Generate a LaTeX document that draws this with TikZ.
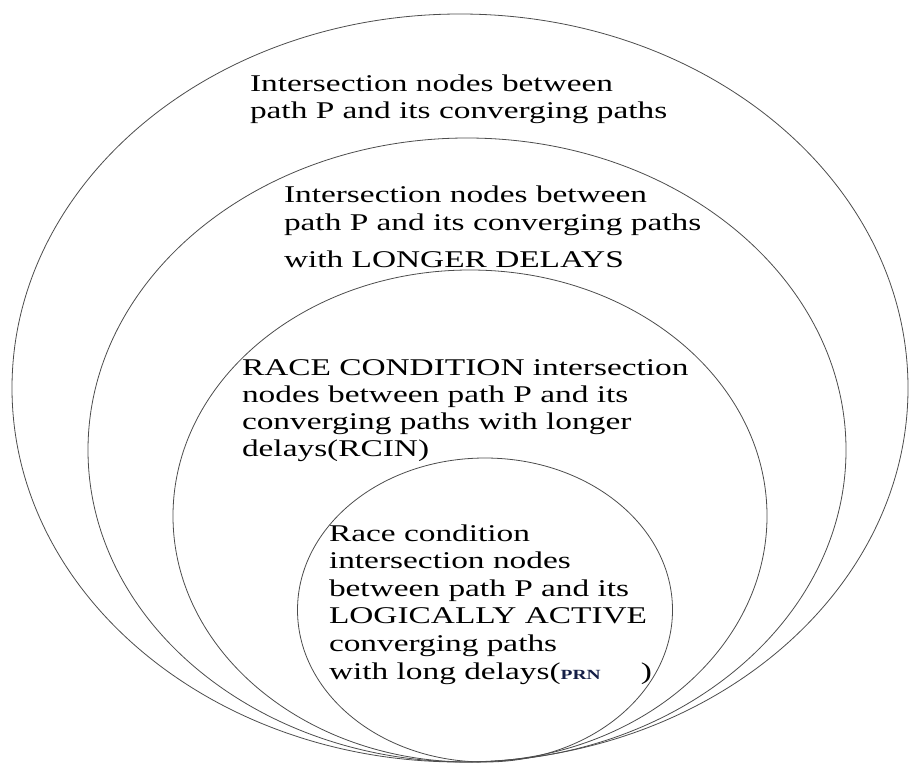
\documentclass[tikz,border=0pt]{standalone}
\usepackage{fontspec}
\setmainfont{Liberation Serif}
\usetikzlibrary{shapes.geometric}
\definecolor{prnblue}{RGB}{20,30,70}
\tikzset{
  ring/.style={ellipse, draw=black!70, line width=0.8pt, inner sep=0pt, outer sep=0pt},
  label block/.style={anchor=base west, inner sep=0pt, outer sep=0pt, align=left}
}
% wide Times-like lettering
\newcommand{\widetext}[2]{\scalebox{1.39}[1]{\fontsize{24}{#1}\selectfont\begin{tabular}[t]{@{}l@{}}#2\end{tabular}}}
\begin{document}
\begin{tikzpicture}[x=1pt,y=-1pt]
\useasboundingbox (0,0) rectangle (909,765);

% nested sets, all resting on a common bottom point
\node[ring, minimum width=896pt, minimum height=748pt] (outer) at (460,388) {};
\node[ring, minimum width=758pt, minimum height=624pt] (longer) at (467,450) {};
\node[ring, minimum width=594pt, minimum height=492pt] (rcin) at (470,516) {};
\node[ring, minimum width=375pt, minimum height=304pt] (prn) at (485,610) {};

% set descriptions
\node[label block] (t1) at (250,92)
  {\widetext{26.6}{Intersection nodes between\\ path P and its converging paths}};
\node[label block] (t2) at (284,202)
  {\widetext{28}{Intersection nodes between\\ path P and its converging paths\\[9pt] with LONGER DELAYS}};
\node[label block] (t3) at (242,375)
  {\widetext{27}{RACE CONDITION intersection\\ nodes between path P and its\\ converging paths with longer\\ delays(RCIN)}};
\node[label block] (t4) at (329,541)
  {\widetext{27.6}{Race condition\\ intersection nodes\\ between path P and its\\ LOGICALLY ACTIVE\\ converging paths\\ with long delays({\fontsize{14}{14}\selectfont\bfseries\color{prnblue}PRN}\hspace{29pt})}};
\end{tikzpicture}
\end{document}
